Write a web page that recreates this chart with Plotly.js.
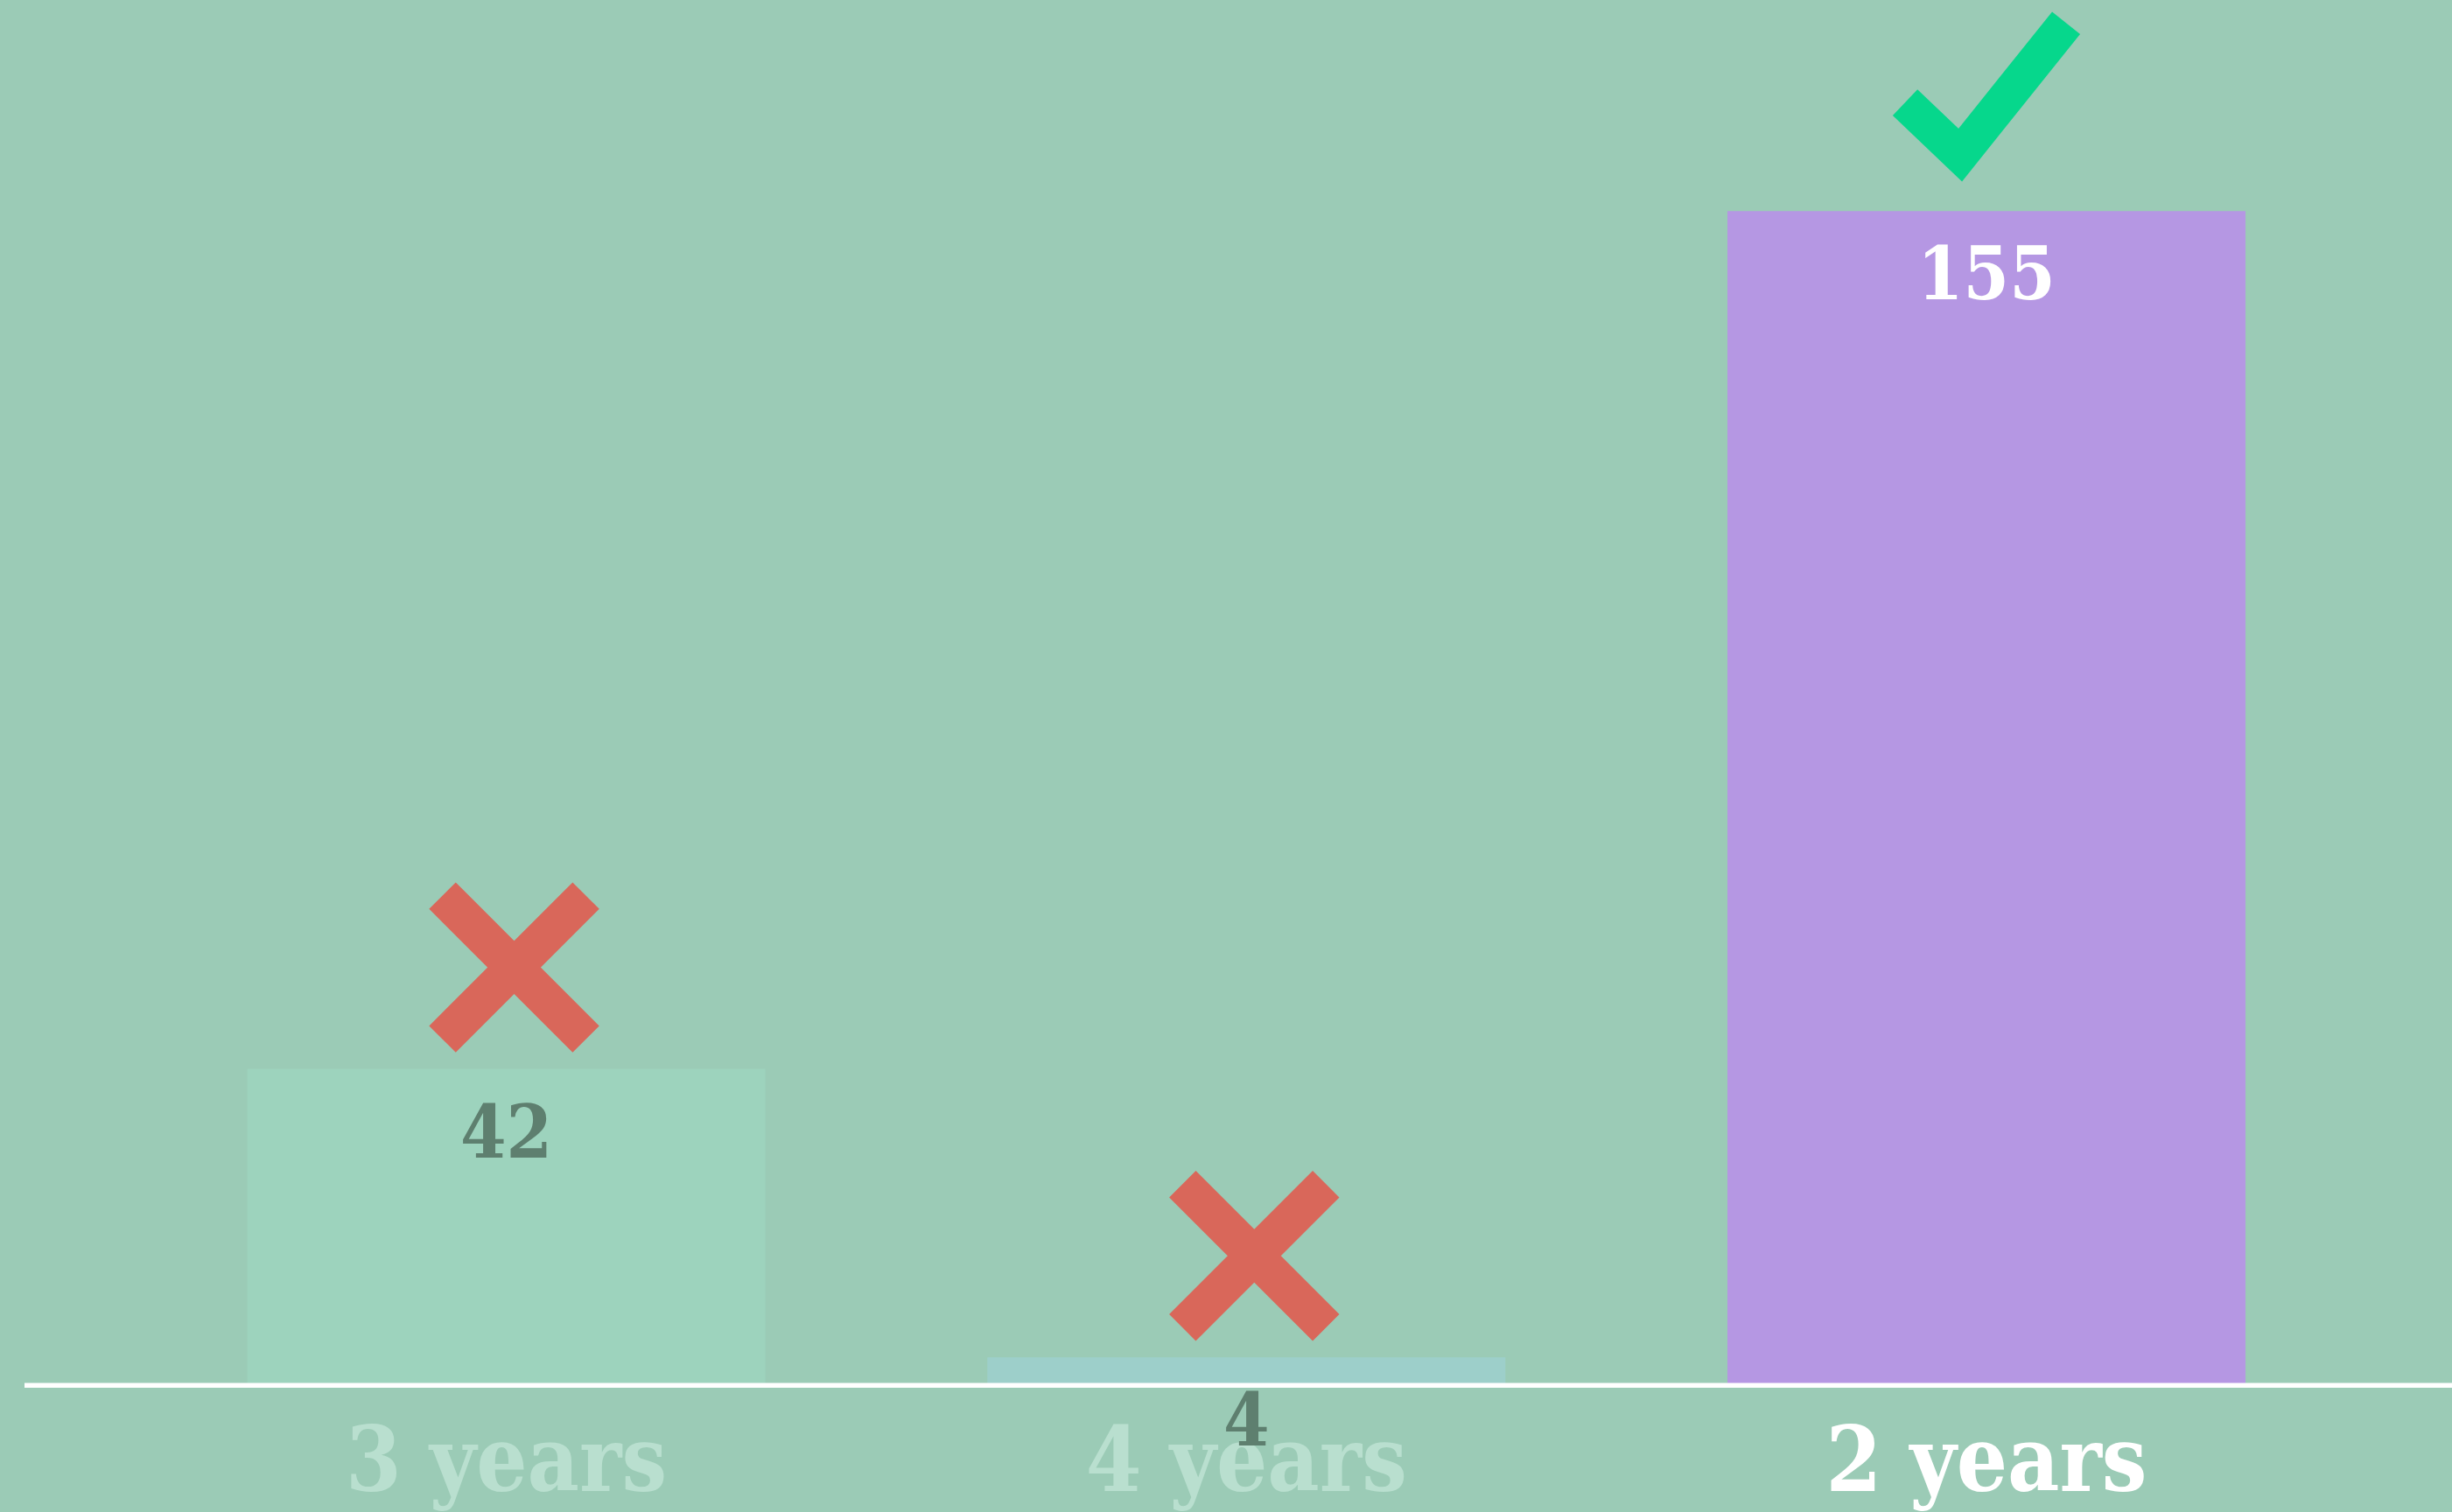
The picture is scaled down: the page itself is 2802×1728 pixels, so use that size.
<!DOCTYPE html>
<html>
<head>
<meta charset="utf-8">
<script src="https://cdn.plot.ly/plotly-3.0.1.min.js"></script>
<style>
html,body{margin:0;padding:0;background:#9bcbb6;}
#chart{width:2802px;height:1728px;}
</style>
</head>
<body>
<div id="chart"></div>
<script>
// ---- data ----
var categories = ["3 years", "4 years", "2 years"];
var values = [42, 4, 155];
var verdicts = ["wrong", "wrong", "right"];
var barColors = ["#9dd3bd", "#9dcfca", "#b597e3"];
var valueLabelColors = ["#5e7f6f", "#5e7f6f", "#ffffff"];
var tickLabelColors = ["#b9dfcf", "#b9dfcf", "#ffffff"];

var FONT = "'DejaVu Serif Condensed', 'DejaVu Serif', serif";

var trace = {
  type: "bar",
  x: categories,
  y: values,
  marker: {color: barColors, line: {width: 0}},
  hoverinfo: "none",
  showlegend: false
};

var annotations = categories.map(function (c, i) {
  return {
    x: c, y: values[i], xref: "x", yref: "y",
    text: String(values[i]),
    showarrow: false,
    xanchor: "center", yanchor: "top",
    yshift: -20,
    font: {family: FONT, size: 84, color: valueLabelColors[i], weight: "bold"}
  };
});

var shapes = [];
// baseline
shapes.push({
  type: "line", xref: "paper", yref: "y", x0: 0, x1: 1, y0: 0, y1: 0,
  line: {color: "#ffffff", width: 11}, layer: "above"
});
categories.forEach(function (c, i) {
  if (verdicts[i] === "wrong") {
    shapes.push({
      type: "path", xref: "x", yref: "y",
      xsizemode: "pixel", ysizemode: "pixel",
      xanchor: c, yanchor: values[i],
      path: "M -73 34 L 91 198 M -73 198 L 91 34",
      line: {color: "#d9675a", width: 43}, layer: "above"
    });
  } else {
    shapes.push({
      type: "path", xref: "x", yref: "y",
      xsizemode: "pixel", ysizemode: "pixel",
      xanchor: c, yanchor: values[i],
      path: "M -93 124 L -30 64 L 91 215",
      line: {color: "#06d78c", width: 41}, layer: "above"
    });
  }
});

var ticktext = categories.map(function (c, i) {
  return '<span style="color:' + tickLabelColors[i] + '">' + c + '</span>';
});

var layout = {
  width: 2802, height: 1728,
  paper_bgcolor: "#9bcbb6", plot_bgcolor: "rgba(0,0,0,0)",
  margin: {l: 28, r: 0, t: 0, b: 142, pad: 0},
  bargap: 0.3,
  xaxis: {
    type: "category",
    range: [-0.651, 2.629],
    tickvals: categories, ticktext: ticktext,
    showgrid: false, zeroline: false, showline: false, ticks: "",
    tickfont: {family: FONT, size: 102, color: "#ffffff", weight: "bold"},
    ticklabelstandoff: 15,
    automargin: false, fixedrange: true
  },
  yaxis: {
    range: [0, 182.8], visible: false, showgrid: false, zeroline: false,
    automargin: false, fixedrange: true
  },
  annotations: annotations,
  shapes: shapes,
  font: {family: FONT}
};

Plotly.newPlot("chart", [trace], layout, {displayModeBar: false, staticPlot: true});
</script>
</body>
</html>
